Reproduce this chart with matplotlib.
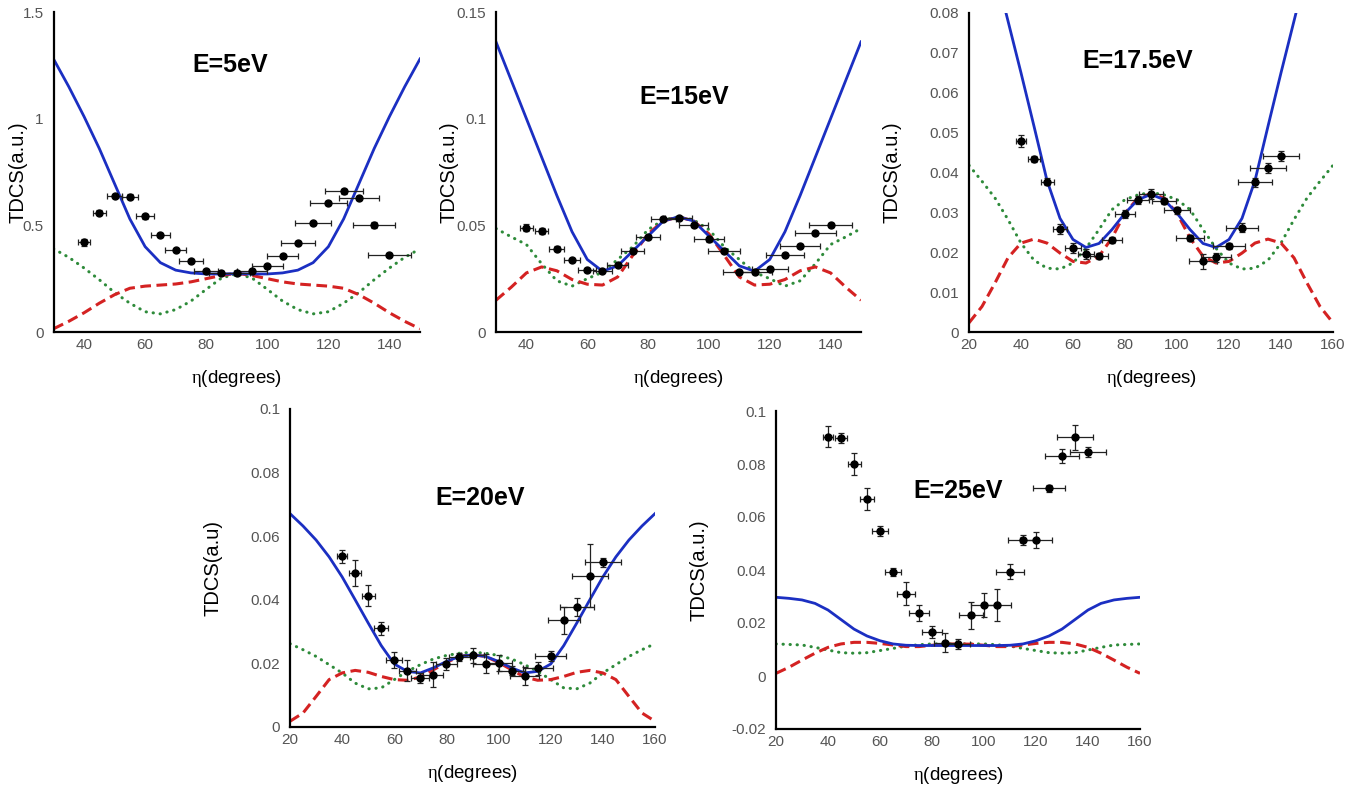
import matplotlib.pyplot as plt

# 字体
plt.rcParams['font.family'] = ['Liberation Sans', 'DejaVu Sans']
plt.rcParams['mathtext.fontset'] = 'custom'
plt.rcParams['mathtext.rm'] = 'Liberation Serif'
plt.rcParams['mathtext.it'] = 'Liberation Serif'

# 实验点 (eta, 度)
eta = [40, 45, 50, 55, 60, 65, 70, 75, 80, 85, 90, 95, 100, 105, 110, 115, 120, 125, 130, 135, 140]
eta_err = [2.0, 2.2, 2.5, 2.7, 3.0, 3.2, 3.5, 3.8, 4.0, 4.2, 4.5, 4.8, 5.0, 5.2, 5.5, 5.8, 6.0, 6.2, 6.5, 6.8, 7.0]

# 理论曲线的角度
eta_a = [30, 35, 40, 45, 50, 55, 60, 65, 70, 75, 80, 85, 90, 95, 100, 105, 110, 115, 120, 125, 130, 135, 140, 145, 150]
eta_b = [20, 25, 30, 35, 40, 45, 50, 55, 60, 65, 70, 75, 80, 85, 90, 95, 100, 105, 110, 115, 120, 125, 130, 135, 140, 145, 150, 155, 160]

# E=5eV
exp_5 = [0.42, 0.56, 0.636, 0.634, 0.542, 0.453, 0.383, 0.334, 0.286, 0.277, 0.277, 0.286, 0.308, 0.358, 0.419, 0.509, 0.605, 0.659, 0.627, 0.502, 0.3625]
err_5 = [0.015, 0.01, 0.01, 0.012, 0.01, 0.01, 0.008, 0.008, 0.008, 0.008, 0.008, 0.008, 0.008, 0.008, 0.008, 0.008, 0.008, 0.012, 0.01, 0.015, 0.008]
blue_5 = [1.28, 1.15, 1.01, 0.86, 0.695, 0.53, 0.40, 0.325, 0.29, 0.277, 0.272, 0.272, 0.273,
          0.272, 0.272, 0.277, 0.29, 0.325, 0.40, 0.53, 0.695, 0.86, 1.01, 1.15, 1.28]
green_5 = [0.39, 0.35, 0.30, 0.245, 0.185, 0.135, 0.095, 0.085, 0.105, 0.145, 0.2, 0.253, 0.273,
           0.253, 0.2, 0.145, 0.105, 0.085, 0.095, 0.135, 0.185, 0.245, 0.30, 0.35, 0.39]
red_5 = [0.015, 0.05, 0.09, 0.135, 0.175, 0.205, 0.215, 0.22, 0.225, 0.235, 0.25, 0.265, 0.275,
         0.265, 0.25, 0.235, 0.225, 0.22, 0.215, 0.205, 0.175, 0.135, 0.09, 0.05, 0.015]

# E=15eV
exp_15 = [0.0489, 0.0473, 0.0391, 0.0337, 0.0290, 0.0287, 0.0316, 0.0379, 0.0446, 0.0529, 0.0535, 0.0501, 0.0434, 0.0380, 0.0279, 0.0282, 0.0293, 0.0363, 0.0404, 0.0465, 0.0501]
err_15 = [0.0015, 0.0015, 0.001, 0.001, 0.001, 0.0008, 0.0008, 0.0008, 0.001, 0.001, 0.001, 0.001, 0.0012, 0.001, 0.0008, 0.0008, 0.0008, 0.0008, 0.001, 0.001, 0.0008]
blue_15 = [0.136, 0.118, 0.100, 0.082, 0.064, 0.047, 0.034, 0.0285, 0.031, 0.038, 0.045, 0.052, 0.054,
           0.052, 0.045, 0.038, 0.031, 0.0285, 0.034, 0.047, 0.064, 0.082, 0.100, 0.118, 0.136]
green_15 = [0.0485, 0.0446, 0.041, 0.032, 0.024, 0.0215, 0.025, 0.028, 0.034, 0.040, 0.048, 0.0525, 0.054,
            0.0525, 0.048, 0.040, 0.034, 0.028, 0.025, 0.0215, 0.024, 0.032, 0.041, 0.0446, 0.0485]
red_15 = [0.0149, 0.021, 0.0277, 0.0305, 0.0287, 0.0246, 0.0224, 0.022, 0.0258, 0.036, 0.046, 0.052, 0.054,
          0.052, 0.046, 0.036, 0.0258, 0.022, 0.0224, 0.0246, 0.0287, 0.0305, 0.0277, 0.021, 0.0149]

# E=17.5eV
exp_175 = [0.048, 0.0434, 0.0377, 0.0259, 0.0210, 0.0196, 0.0191, 0.0230, 0.0296, 0.0332, 0.0346, 0.0328, 0.0305, 0.0235, 0.0177, 0.0187, 0.0215, 0.0262, 0.0375, 0.0412, 0.0441]
err_175 = [0.0015, 0.0008, 0.0008, 0.0012, 0.0012, 0.0012, 0.0008, 0.0008, 0.001, 0.001, 0.0012, 0.0008, 0.0008, 0.0008, 0.0018, 0.0012, 0.0008, 0.0012, 0.0012, 0.0012, 0.0012]
blue_175 = [0.117, 0.104, 0.091, 0.078, 0.065, 0.0516, 0.038, 0.0285, 0.0232, 0.0212, 0.0222, 0.0257, 0.0298, 0.0332, 0.0345,
            0.0332, 0.0298, 0.0257, 0.0222, 0.0212, 0.0232, 0.0285, 0.038, 0.0516, 0.065, 0.078, 0.091, 0.104, 0.117]
green_175 = [0.0418, 0.0378, 0.0336, 0.0282, 0.0223, 0.018, 0.016, 0.0158, 0.0173, 0.021, 0.0257, 0.0307, 0.0332, 0.0344, 0.035,
             0.0344, 0.0332, 0.0307, 0.0257, 0.021, 0.0173, 0.0158, 0.016, 0.018, 0.0223, 0.0282, 0.0336, 0.0378, 0.0418]
red_175 = [0.0023, 0.0064, 0.0123, 0.0186, 0.0223, 0.0233, 0.0223, 0.0198, 0.0177, 0.0173, 0.019, 0.0236, 0.0298, 0.0336, 0.0347,
           0.0336, 0.0298, 0.0236, 0.019, 0.0173, 0.0177, 0.0198, 0.0223, 0.0233, 0.0223, 0.0186, 0.0123, 0.0064, 0.0023]

# E=20eV
exp_20 = [0.0537, 0.0484, 0.0413, 0.0310, 0.0212, 0.0177, 0.0153, 0.0165, 0.0199, 0.0220, 0.0225, 0.0199, 0.0201, 0.0177, 0.0161, 0.0184, 0.0222, 0.0335, 0.0377, 0.0476, 0.0518]
err_20 = [0.0021, 0.0042, 0.0034, 0.002, 0.0025, 0.0033, 0.0016, 0.0039, 0.0019, 0.0012, 0.0024, 0.003, 0.0025, 0.0015, 0.0028, 0.002, 0.0016, 0.0043, 0.0029, 0.010, 0.0015]
blue_20 = [0.0671, 0.0632, 0.0588, 0.0535, 0.0472, 0.040, 0.0327, 0.0256, 0.0198, 0.0175, 0.017, 0.0186, 0.0206, 0.0222, 0.0227,
           0.0222, 0.0206, 0.0186, 0.017, 0.0175, 0.0198, 0.0256, 0.0327, 0.040, 0.0472, 0.0535, 0.0588, 0.0632, 0.0671]
green_20 = [0.0262, 0.0243, 0.0222, 0.0196, 0.017, 0.0138, 0.012, 0.0123, 0.0149, 0.0175, 0.0196, 0.0214, 0.0225, 0.0232, 0.0235,
            0.0232, 0.0225, 0.0214, 0.0196, 0.0175, 0.0149, 0.0123, 0.012, 0.0138, 0.017, 0.0196, 0.0222, 0.0243, 0.0262]
red_20 = [0.0018, 0.0044, 0.0096, 0.0149, 0.017, 0.0178, 0.0172, 0.0159, 0.0149, 0.0147, 0.0157, 0.018, 0.0203, 0.0222, 0.0227,
          0.0222, 0.0203, 0.018, 0.0157, 0.0147, 0.0149, 0.0159, 0.0172, 0.0178, 0.017, 0.0149, 0.0096, 0.0044, 0.0018]

# E=25eV
exp_25 = [0.0903, 0.0899, 0.080, 0.0668, 0.0548, 0.0392, 0.0311, 0.0239, 0.0165, 0.0126, 0.0121, 0.0229, 0.0268, 0.0268, 0.0394, 0.0512, 0.0513, 0.0708, 0.0831, 0.0901, 0.0847]
err_25 = [0.0039, 0.0019, 0.0043, 0.004, 0.0018, 0.0016, 0.0043, 0.003, 0.0023, 0.0036, 0.0018, 0.0052, 0.0047, 0.0061, 0.0028, 0.0019, 0.0031, 0.0013, 0.0026, 0.0048, 0.0019]
blue_25 = [0.0297, 0.0293, 0.0287, 0.0274, 0.0249, 0.0213, 0.0177, 0.0151, 0.0133, 0.0121, 0.0116, 0.0115, 0.0115, 0.0115, 0.0115,
           0.0115, 0.0115, 0.0115, 0.0116, 0.0121, 0.0133, 0.0151, 0.0177, 0.0213, 0.0249, 0.0274, 0.0287, 0.0293, 0.0297]
green_25 = [0.0121, 0.0119, 0.0117, 0.0108, 0.0098, 0.0088, 0.0086, 0.0088, 0.0096, 0.0104, 0.0113, 0.0118, 0.0121, 0.0121, 0.0121,
            0.0121, 0.0121, 0.0118, 0.0113, 0.0104, 0.0096, 0.0088, 0.0086, 0.0088, 0.0098, 0.0108, 0.0117, 0.0119, 0.0121]
red_25 = [0.001, 0.0033, 0.006, 0.0086, 0.0108, 0.0121, 0.0127, 0.0127, 0.0123, 0.0117, 0.0111, 0.0111, 0.0116, 0.012, 0.0121,
          0.012, 0.0116, 0.0111, 0.0111, 0.0117, 0.0123, 0.0127, 0.0127, 0.0121, 0.0108, 0.0086, 0.006, 0.0033, 0.001]

BLUE = '#1b2fc2'
GREEN = '#2e8b3a'
RED = '#d42222'
W, H = 1357, 789


def panel(fig, box, xlim, ylim, yticks, ylabels, xticks, ylab, ylab_x, title, title_xy,
          xs, blue, green, red, exp, err):
    # box: 像素坐标 (左, 上, 右, 下)
    l, t, r, b = box
    ax = fig.add_axes([l / W, 1 - b / H, (r - l) / W, (b - t) / H])
    ax.plot(xs, green, color=GREEN, lw=2.2, ls=(0, (0.1, 2.2)), dash_capstyle='round')
    ax.plot(xs, red, color=RED, lw=2.2, ls=(0, (3.5, 1.8)))
    ax.plot(xs, blue, color=BLUE, lw=2.0)
    ax.errorbar(eta, exp, xerr=eta_err, yerr=err, fmt='o', color='black', ms=5,
                elinewidth=0.9, capsize=2, capthick=0.9, ecolor='#222222', zorder=5)
    ax.set_xlim(*xlim)
    ax.set_ylim(*ylim)
    ax.set_xticks(xticks)
    ax.set_yticks(yticks)
    ax.set_yticklabels(ylabels)
    ax.tick_params(axis='y', length=0, labelsize=11, labelcolor='#555555', pad=7)
    ax.tick_params(axis='x', length=0, labelsize=11, labelcolor='#555555', pad=4)
    for s in ['top', 'right']:
        ax.spines[s].set_visible(False)
    for s in ['left', 'bottom']:
        ax.spines[s].set_linewidth(1.6)
        ax.spines[s].set_color('black')
    ax.set_ylabel(ylab, fontsize=14.5)
    ax.yaxis.set_label_coords(ylab_x, 0.5)
    ax.set_xlabel(r'$\eta$(degrees)', fontsize=13.5)
    ax.xaxis.set_label_coords(0.5, -0.112)
    ax.text(title_xy[0], title_xy[1], title, fontsize=18, fontweight='bold',
            ha='center', va='center')
    return ax


fig = plt.figure(figsize=(13.57, 7.89), dpi=100)

panel(fig, (53.5, 12, 420, 332), (30, 150), (0, 1.5), [0, 0.5, 1, 1.5], ['0', '0.5', '1', '1.5'],
      [40, 60, 80, 100, 120, 140], 'TDCS(a.u.)', -0.070, 'E=5eV', (88, 1.25),
      eta_a, blue_5, green_5, red_5, exp_5, err_5)

panel(fig, (496, 12, 861, 332), (30, 150), (0, 0.15), [0, 0.05, 0.1, 0.15], ['0', '0.05', '0.1', '0.15'],
      [40, 60, 80, 100, 120, 140], 'TDCS(a.u.)', -0.102, 'E=15eV', (92, 0.11),
      eta_a, blue_15, green_15, red_15, exp_15, err_15)

panel(fig, (969, 13, 1333, 332), (20, 160), (0, 0.08),
      [0, 0.01, 0.02, 0.03, 0.04, 0.05, 0.06, 0.07, 0.08],
      ['0', '0.01', '0.02', '0.03', '0.04', '0.05', '0.06', '0.07', '0.08'],
      [20, 40, 60, 80, 100, 120, 140, 160], 'TDCS(a.u.)', -0.186, 'E=17.5eV', (85, 0.068),
      eta_b, blue_175, green_175, red_175, exp_175, err_175)

panel(fig, (290, 409, 655, 727), (20, 160), (0, 0.1), [0, 0.02, 0.04, 0.06, 0.08, 0.1],
      ['0', '0.02', '0.04', '0.06', '0.08', '0.1'],
      [20, 40, 60, 80, 100, 120, 140, 160], 'TDCS(a.u)', -0.184, 'E=20eV', (93, 0.072),
      eta_b, blue_20, green_20, red_20, exp_20, err_20)

panel(fig, (776, 411, 1140, 729), (20, 160), (-0.02, 0.1), [-0.02, 0, 0.02, 0.04, 0.06, 0.08, 0.1],
      ['-0.02', '0', '0.02', '0.04', '0.06', '0.08', '0.1'],
      [20, 40, 60, 80, 100, 120, 140, 160], 'TDCS(a.u.)', -0.186, 'E=25eV', (90, 0.070),
      eta_b, blue_25, green_25, red_25, exp_25, err_25)

fig.savefig('out.png', dpi=100)
